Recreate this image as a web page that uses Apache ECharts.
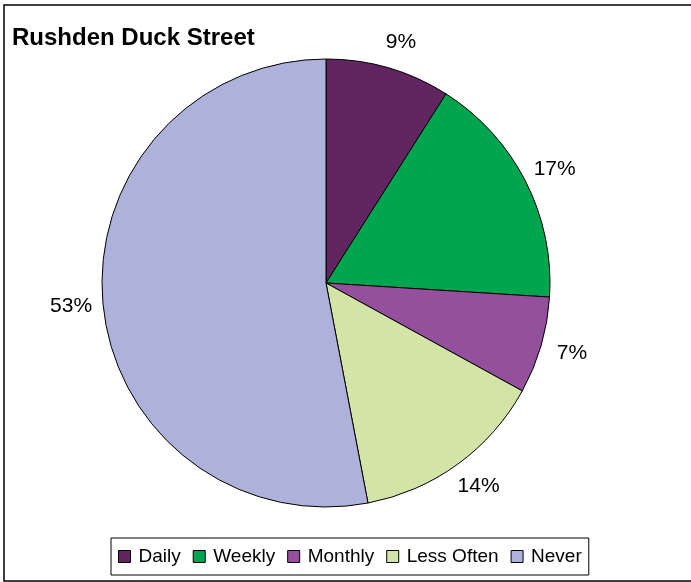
<!DOCTYPE html>
<html>
<head>
<meta charset="utf-8">
<script src="https://cdn.jsdelivr.net/npm/echarts@6/dist/echarts.min.js"></script>
<style>
  html, body { margin: 0; padding: 0; background: #fff; }
  #chart { width: 691px; height: 582px; }
</style>
</head>
<body>
<div id="chart"></div>
<script>
const categories = ["Daily", "Weekly", "Monthly", "Less Often", "Never"];
const values = [9, 17, 7, 14, 53];
const colors = ["#612562", "#00a54f", "#95509d", "#d3e4a7", "#aeb1da"];

const chart = echarts.init(document.getElementById("chart"));

const option = {
  backgroundColor: "#fff",
  color: colors,
  animation: false,
  graphic: [
    {
      // outer frame
      type: "rect",
      shape: { x: 4, y: 5, width: 720, height: 576 },
      style: { fill: "none", stroke: "#000", lineWidth: 1.5 },
      silent: true,
    },
  ],
  title: {
    text: "Rushden Duck Street",
    left: 12,
    top: 26,
    padding: 0,
    textStyle: {
      fontFamily: "Liberation Sans, Arial, sans-serif",
      fontSize: 24,
      fontWeight: "bold",
      color: "#000",
    },
  },
  legend: {
    data: categories,
    left: 111,
    bottom: 7,
    icon: "rect",
    itemWidth: 12,
    itemHeight: 12,
    itemGap: 12,
    padding: [9, 7, 9, 7],
    borderColor: "#000",
    borderWidth: 1,
    selectedMode: false,
    itemStyle: { borderColor: "#000", borderWidth: 1 },
    textStyle: {
      fontFamily: "Liberation Sans, Arial, sans-serif",
      fontSize: 19,
      color: "#000",
      padding: [0, 0, 0, 3],
    },
  },
  series: [
    {
      type: "pie",
      center: [326, 283],
      radius: 224,
      startAngle: 90,
      clockwise: true,
      avoidLabelOverlap: false,
      itemStyle: { borderColor: "#000", borderWidth: 1 },
      label: {
        show: true,
        position: "outside",
        formatter: (p) => Math.round(p.percent) + "%",
        fontFamily: "Liberation Sans, Arial, sans-serif",
        fontSize: 21,
        color: "#000",
      },
      labelLine: { show: false, length: 27, length2: 0 },
      // centre each label on its anchor, like the spreadsheet does
      labelLayout: () => ({ align: "center", verticalAlign: "middle" }),
      emphasis: { disabled: true },
      data: categories.map((name, i) => ({ name: name, value: values[i] })),
    },
  ],
};

chart.setOption(option);
</script>
</body>
</html>
